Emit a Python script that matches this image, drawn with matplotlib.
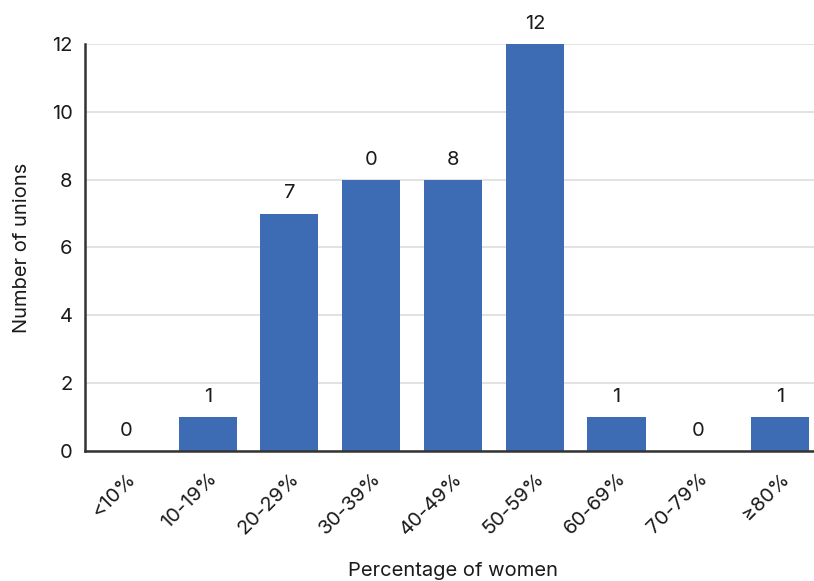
import matplotlib.pyplot as plt

plt.rcParams['font.family'] = ['Inter', 'DejaVu Sans']

categories = ["<10%", "10-19%", "20-29%", "30-39%", "40-49%", "50-59%", "60-69%", "70-79%", "≥80%"]
unions = [0, 1, 7, 8, 8, 12, 1, 0, 1]
bar_labels = ["0", "1", "7", "0", "8", "12", "1", "0", "1"]

TXT = "#1a1a1a"
FS = 14.5

fig = plt.figure(figsize=(8.14, 5.81), dpi=100)
ax = fig.add_axes([0.1045, 0.2238, 0.904, 0.7005])

x = list(range(len(categories)))
ax.bar(x, unions, width=0.71, color="#3e6cb4", zorder=2)

# value labels above bars
for xi, v, lab in zip(x, unions, bar_labels):
    ax.annotate(lab, (xi, v), xytext=(0, 8), textcoords="offset points",
                ha="center", va="bottom", fontsize=FS, color=TXT)

ax.set_xlim(-0.5, 8.5)
ax.set_ylim(0, 12)
ax.set_yticks(range(0, 13, 2))
ax.set_xticks(x)
ax.set_xticklabels([])

# rotated category labels
for xi, cat in zip(x, categories):
    ax.annotate(cat, (xi, 0), xycoords=("data", "axes fraction"),
                xytext=(7, -25), textcoords="offset pixels",
                rotation=45, ha="right", va="center", rotation_mode="anchor",
                fontsize=FS, color=TXT)

ax.tick_params(axis="y", labelsize=FS, labelcolor=TXT, length=0, pad=9)
ax.tick_params(axis="x", length=0)

ax.grid(axis="y", color="#dddddd", linewidth=1.2, zorder=0)
for s in ["top", "right"]:
    ax.spines[s].set_visible(False)
for s in ["left", "bottom"]:
    ax.spines[s].set_color("#333333")
    ax.spines[s].set_linewidth(1.8)
    ax.spines[s].set_zorder(3)

ax.set_ylabel("Number of unions", fontsize=FS, color=TXT)
ax.yaxis.set_label_coords(-0.0736, 0.5)
ax.set_xlabel("Percentage of women", fontsize=FS, color=TXT)
ax.xaxis.set_label_coords(0.5, -0.273)

fig.savefig("out.png", dpi=100)
